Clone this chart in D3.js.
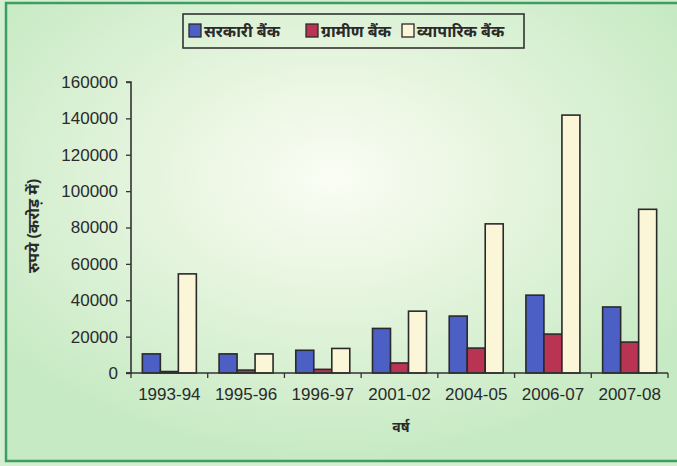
<!DOCTYPE html>
<html>
<head>
<meta charset="utf-8">
<script src="https://cdn.jsdelivr.net/npm/d3@7"></script>
<style>
  body { margin: 0; background: #fff; }
  text { font-family: "Liberation Sans", Arial, sans-serif; }
  .hi { font-family: "Noto Sans", "Noto Sans CJK SC", sans-serif; font-weight: bold; }
</style>
</head>
<body>
<svg id="chart" width="677" height="466"></svg>
<script>
var years = ["1993-94", "1995-96", "1996-97", "2001-02", "2004-05", "2006-07", "2007-08"];
var sarkari = [10500, 10500, 12500, 24500, 31300, 42800, 36300];
var gramin = [800, 1600, 2000, 5500, 13700, 21400, 17000];
var vyaparik = [54500, 10500, 13500, 34000, 82000, 141800, 90000];
var yTicks = [0, 20000, 40000, 60000, 80000, 100000, 120000, 140000, 160000];
var seriesNames = ["सरकारी बैंक", "ग्रामीण बैंक", "व्यापारिक बैंक"];
var colors = ["#4c5fc4", "#b93352", "#fcf6d8"];

var svg = d3.select("#chart");
var series = [sarkari, gramin, vyaparik];

// background
var defs = svg.append("defs");
var grad = defs.append("radialGradient").attr("id", "bg")
  .attr("cx", "48%").attr("cy", "38%").attr("r", "62%");
grad.append("stop").attr("offset", "0%").attr("stop-color", "#fafdf4");
grad.append("stop").attr("offset", "35%").attr("stop-color", "#eaf6e2");
grad.append("stop").attr("offset", "100%").attr("stop-color", "#c6eac3");

svg.append("rect").attr("x", 0).attr("y", 0).attr("width", 677).attr("height", 466).attr("fill", "#d4efd0");
svg.append("rect").attr("x", 6).attr("y", 3).attr("width", 680).attr("height", 458)
  .attr("fill", "url(#bg)").attr("stroke", "#3f9c63").attr("stroke-width", 2.5);

var margin = {left: 131, right: 668, top: 82, bottom: 373};

var x = d3.scaleBand().domain(years).range([margin.left, margin.right]).paddingInner(0).paddingOuter(0);
var y = d3.scaleLinear().domain([0, 160000]).range([margin.bottom, margin.top]);
var xs = d3.scaleBand().domain([0, 1, 2]).range([0, 54]);

// bars
var g = svg.append("g");
years.forEach(function (yr, i) {
  var off = x(yr) + (x.bandwidth() - 54) / 2;
  series.forEach(function (s, k) {
    g.append("rect")
      .attr("x", off + xs(k))
      .attr("y", y(s[i]))
      .attr("width", xs.bandwidth())
      .attr("height", y(0) - y(s[i]))
      .attr("fill", colors[k])
      .attr("stroke", "#2a2a2a")
      .attr("stroke-width", 1.6);
  });
});

// axes
var yAxis = svg.append("g").attr("transform", "translate(" + margin.left + ",0)")
  .call(d3.axisLeft(y).tickValues(yTicks).tickSize(5).tickPadding(8).tickFormat(d3.format("d")));
var xAxis = svg.append("g").attr("transform", "translate(0," + margin.bottom + ")")
  .call(d3.axisBottom(x).tickSize(0).tickPadding(15));

// tick marks between categories
var bounds = years.map(function (d) { return x(d); }).concat([margin.right]);
xAxis.selectAll(".sep").data(bounds).enter().append("line")
  .attr("x1", function (d) { return d; }).attr("x2", function (d) { return d; })
  .attr("y1", 0).attr("y2", 5).attr("stroke", "#333").attr("stroke-width", 1.3);

[yAxis, xAxis].forEach(function (a) {
  a.select(".domain").attr("stroke", "#333").attr("stroke-width", 1.6);
  a.selectAll(".tick line").attr("stroke", "#333").attr("stroke-width", 1.3);
  a.selectAll("text").attr("fill", "#2a2a2a").style("font-size", "17px")
    .style("font-family", "'Liberation Sans', Arial, sans-serif");
});
yAxis.select(".domain").attr("d", "M-5," + y(160000) + "H0V" + y(0) + "H-5");
xAxis.select(".domain").attr("d", "M" + (margin.left - 5) + ",0H" + margin.right);

// axis titles
svg.append("text").attr("class", "hi")
  .attr("transform", "translate(39,226) rotate(-90)")
  .attr("text-anchor", "middle").style("font-size", "16px").attr("fill", "#2a2a2a")
  .text("रुपये (करोड़ में)");
svg.append("text").attr("class", "hi")
  .attr("x", 401).attr("y", 432)
  .attr("text-anchor", "middle").style("font-size", "14px").attr("fill", "#2a2a2a")
  .text("वर्ष");

// legend
var lg = svg.append("g");
lg.append("rect").attr("x", 183).attr("y", 14).attr("width", 341).attr("height", 34)
  .attr("fill", "none").attr("stroke", "#333").attr("stroke-width", 1.6);
var legX = [189, 306, 402];
seriesNames.forEach(function (n, k) {
  lg.append("rect").attr("x", legX[k]).attr("y", 24).attr("width", 12).attr("height", 13)
    .attr("fill", colors[k]).attr("stroke", "#2a2a2a").attr("stroke-width", 1.3);
  lg.append("text").attr("class", "hi").attr("x", legX[k] + 15).attr("y", 37)
    .style("font-size", "16px").attr("fill", "#2a2a2a").text(n);
});
</script>
</body>
</html>
